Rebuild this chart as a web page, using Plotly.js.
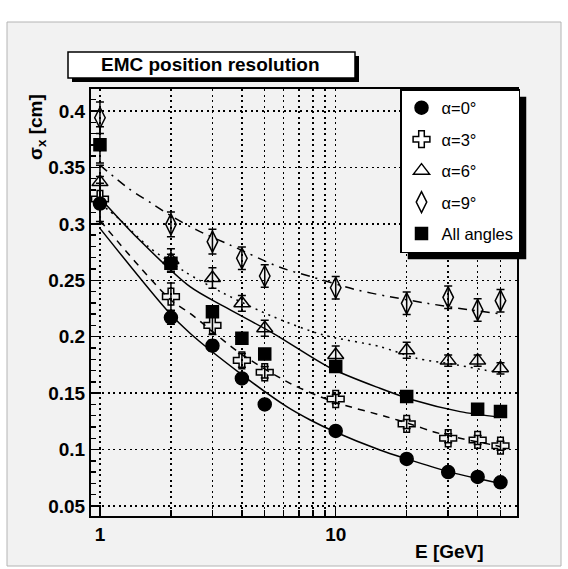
<!DOCTYPE html>
<html>
<head>
<meta charset="utf-8">
<script src="https://cdn.plot.ly/plotly-3.0.1.min.js"></script>
<style>html,body{margin:0;padding:0;background:#fff;}#chart{width:568px;height:569px;}</style>
</head>
<body>
<div id="chart"></div>
<script>
// ---- data ----
const energies = [1, 2, 3, 4, 5, 10, 20, 30, 40, 50];
const energiesAll = [1, 2, 3, 4, 5, 10, 20, 40, 50];

const sigmaA0 = [0.318, 0.217, 0.192, 0.163, 0.140, 0.1165, 0.0917, 0.080, 0.0757, 0.071];
const errA0   = [0.018, 0.006, 0.005, 0.004, 0.003, 0.003, 0.003, 0.003, 0.003, 0.003];

const sigmaA3 = [0.322, 0.2355, 0.210, 0.179, 0.1685, 0.1448, 0.1227, 0.110, 0.1085, 0.1034];
const errA3   = [0.020, 0.012, 0.008, 0.006, 0.005, 0.004, 0.004, 0.004, 0.004, 0.004];

const sigmaA6 = [0.337, 0.268, 0.252, 0.2296, 0.2075, 0.1838, 0.188, 0.1788, 0.1788, 0.172];
const errA6   = [0.015, 0.010, 0.009, 0.007, 0.007, 0.008, 0.007, 0.005, 0.005, 0.005];

const sigmaA9 = [0.394, 0.2996, 0.2842, 0.2695, 0.2538, 0.2434, 0.2296, 0.2349, 0.2237, 0.2319];
const errA9   = [0.014, 0.011, 0.011, 0.010, 0.010, 0.010, 0.010, 0.010, 0.010, 0.010];

const sigmaAll = [0.370, 0.265, 0.2222, 0.1986, 0.1847, 0.1735, 0.1469, 0.1357, 0.1336];
const errAll   = [0.016, 0.008, 0.005, 0.004, 0.004, 0.004, 0.003, 0.003, 0.003];

// fit curves, points
const fitE_A0 = [1.0, 1.92, 2.41, 3.93, 6.2, 7.8, 9.9, 15.4, 20, 30, 39.5, 50];
const fit_A0  = [0.296, 0.2237, 0.203, 0.1675, 0.138, 0.1262, 0.1158, 0.0996, 0.0917, 0.0804, 0.0745, 0.070];

const fitE_A3 = [1.0, 1.41, 2.01, 2.41, 3.93, 6.4, 9.78, 16.4, 21.3, 25.9, 33.7, 46.6, 50];
const fit_A3  = [0.303, 0.2665, 0.232, 0.2207, 0.1853, 0.1587, 0.1424, 0.1291, 0.1218, 0.1158, 0.110, 0.104, 0.1025];

const fitE_A6 = [1.0, 1.196, 1.60, 2.29, 3.34, 5.43, 8.85, 15.4, 22.0, 32.7, 46.6, 50];
const fit_A6  = [0.318, 0.305, 0.280, 0.2576, 0.2385, 0.2177, 0.2015, 0.1912, 0.1809, 0.175, 0.169, 0.168];

const fitE_A9 = [1.0, 1.32, 1.66, 2.08, 2.57, 3.56, 5.8, 8.04, 12.3, 16.4, 24.4, 37.1, 50];
const fit_A9  = [0.352, 0.3315, 0.318, 0.305, 0.2946, 0.2813, 0.2615, 0.2526, 0.2414, 0.236, 0.2296, 0.2237, 0.2203];

const fitE_All = [1.0, 1.45, 2.41, 3.34, 5.43, 9.45, 15.4, 21.3, 33.7, 50];
const fit_All  = [0.323, 0.287, 0.2443, 0.227, 0.203, 0.1725, 0.1543, 0.1439, 0.1336, 0.1287];

const legendNames = ['α=0°', 'α=3°', 'α=6°', 'α=9°', 'All angles'];
const xTickVals = [1, 10];
const xTickText = ['1', '10'];
const xMinorVals = [2, 3, 4, 5, 6, 7, 8, 9, 20, 30, 40, 50];
const yTickVals = [0.05, 0.1, 0.15, 0.2, 0.25, 0.3, 0.35, 0.4];
const yTickText = ['0.05', '0.1', '0.15', '0.2', '0.25', '0.3', '0.35', '0.4'];

// ---- geometry helpers (pixel -> paper) ----
const W = 568, H = 569;
const L = 91, R = 517, T = 89, B = 516;
const px = x => (x - L) / (R - L);
const py = y => (B - y) / (B - T);

const FONT = 'Liberation Sans, Arial, sans-serif';

function fitLine(x, y, dash) {
  return {x: x, y: y, type: 'scatter', mode: 'lines', showlegend: false, hoverinfo: 'skip',
          line: {color: 'black', width: 1.5, dash: dash, shape: 'spline', smoothing: 0.8}};
}
function pts(x, y, e, name, sym, size, group) {
  return {x: x, y: y, type: 'scatter', mode: 'markers', name: name, legendgroup: group,
          marker: {symbol: sym, size: size, color: 'black', line: {color: 'black', width: 1.5}},
          error_y: {type: 'data', array: e, visible: true, color: 'black', thickness: 1.5, width: 4}};
}

const traces = [
  fitLine(fitE_A0, fit_A0, 'solid'),
  fitLine(fitE_A3, fit_A3, '7px,6px'),
  fitLine(fitE_A6, fit_A6, '2px,5px'),
  fitLine(fitE_A9, fit_A9, '9px,6px,2px,6px'),
  fitLine(fitE_All, fit_All, 'solid'),
  pts(energies, sigmaA0, errA0, legendNames[0], 'circle', 13, 'g0'),
  pts(energies, sigmaA3, errA3, legendNames[1], 'cross-open', 14, 'g1'),
  pts(energies, sigmaA6, errA6, legendNames[2], 'triangle-up-open', 14, 'g2'),
  pts(energies, sigmaA9, errA9, legendNames[3], 'diamond-tall-open', 15, 'g3'),
  pts(energiesAll, sigmaAll, errAll, legendNames[4], 'square', 12, 'g4')
];

const layout = {
  width: W, height: H,
  margin: {l: L, r: W - R, t: T, b: H - B, pad: 0},
  paper_bgcolor: '#ffffff',
  plot_bgcolor: '#f2f2f2',
  font: {family: FONT, color: 'black'},
  showlegend: true,
  xaxis: {
    type: 'log', range: [-0.038, 1.769],
    tickmode: 'array', tickvals: xTickVals, ticktext: xTickText,
    ticks: 'inside', ticklen: 10, tickwidth: 1.5, tickcolor: 'black',
    tickfont: {family: FONT, size: 19, weight: 'bold'},
    showgrid: true, gridcolor: 'black', gridwidth: 1.5, griddash: '2px,3.5px',
    minor: {tickmode: 'array', tickvals: xMinorVals, ticks: 'inside', ticklen: 6, tickwidth: 1.5, tickcolor: 'black',
            showgrid: true, gridcolor: 'black', gridwidth: 1.5, griddash: '2px,3.5px'},
    showline: true, linecolor: 'black', linewidth: 2, mirror: true,
    zeroline: false, fixedrange: true
  },
  yaxis: {
    range: [0.0411, 0.4195],
    tickmode: 'array', tickvals: yTickVals, ticktext: yTickText,
    ticks: 'inside', ticklen: 10, tickwidth: 1.5, tickcolor: 'black',
    tickfont: {family: FONT, size: 19, weight: 'bold'},
    showgrid: true, gridcolor: 'black', gridwidth: 1.5, griddash: '2px,3.5px',
    minor: {tickmode: 'linear', dtick: 0.01, tick0: 0, ticks: 'inside', ticklen: 5, tickwidth: 1.5, tickcolor: 'black', showgrid: false},
    showline: true, linecolor: 'black', linewidth: 2, mirror: true,
    zeroline: false, fixedrange: true
  },
  legend: {
    x: px(400), y: py(89), xanchor: 'left', yanchor: 'top',
    bgcolor: 'white', bordercolor: 'black', borderwidth: 1.5,
    font: {family: FONT, size: 16.5, color: 'black'},
    tracegroupgap: 7, itemsizing: 'trace'
  },
  shapes: [
    // canvas frame
    {type: 'rect', xref: 'paper', yref: 'paper', layer: 'below',
     x0: px(7), x1: px(561), y0: py(566), y1: py(22),
     fillcolor: '#f2f2f2', line: {color: '#b4b4b4', width: 1}},
    // title shadow
    {type: 'rect', xref: 'paper', yref: 'paper', layer: 'above',
     x0: px(72), x1: px(359), y0: py(82), y1: py(56),
     fillcolor: 'black', line: {width: 0}},
    // title box
    {type: 'rect', xref: 'paper', yref: 'paper', layer: 'above',
     x0: px(68), x1: px(355), y0: py(78), y1: py(52),
     fillcolor: 'white', line: {color: 'black', width: 1.5}}
  ],
  annotations: [
    {text: '<b>EMC position resolution</b>', xref: 'paper', yref: 'paper',
     x: px(210), y: py(65), xanchor: 'center', yanchor: 'middle', showarrow: false,
     font: {family: FONT, size: 19, color: 'black'}},
    {text: '<b>E [GeV]</b>', xref: 'paper', yref: 'paper',
     x: px(486), y: py(551), xanchor: 'right', yanchor: 'middle', showarrow: false,
     font: {family: FONT, size: 19, color: 'black'}},
    {text: '<b>σ<sub>x</sub> [cm]</b>', xref: 'paper', yref: 'paper', textangle: -90,
     x: px(37), y: py(92), xanchor: 'center', yanchor: 'top', showarrow: false,
     font: {family: FONT, size: 19, color: 'black'}}
  ]
};

Plotly.newPlot('chart', traces, layout, {displayModeBar: false, staticPlot: true}).then(gd => {
  // legend drop shadow, placed from the legend's drawn box
  const bg = gd.querySelector('.legend .bg');
  if (!bg) return;
  const box = bg.getBoundingClientRect();
  const host = gd.getBoundingClientRect();
  const x0 = box.left - host.left + 7, x1 = box.right - host.left + 7;
  const y0 = box.top - host.top + 7, y1 = box.bottom - host.top + 7;
  const shapes = gd.layout.shapes.slice();
  shapes.push({type: 'rect', xref: 'paper', yref: 'paper', layer: 'above',
    x0: px(x0), x1: px(x1), y0: py(y1), y1: py(y0), fillcolor: 'black', line: {width: 0}});
  return Plotly.relayout(gd, {shapes: shapes});
});
</script>
</body>
</html>
